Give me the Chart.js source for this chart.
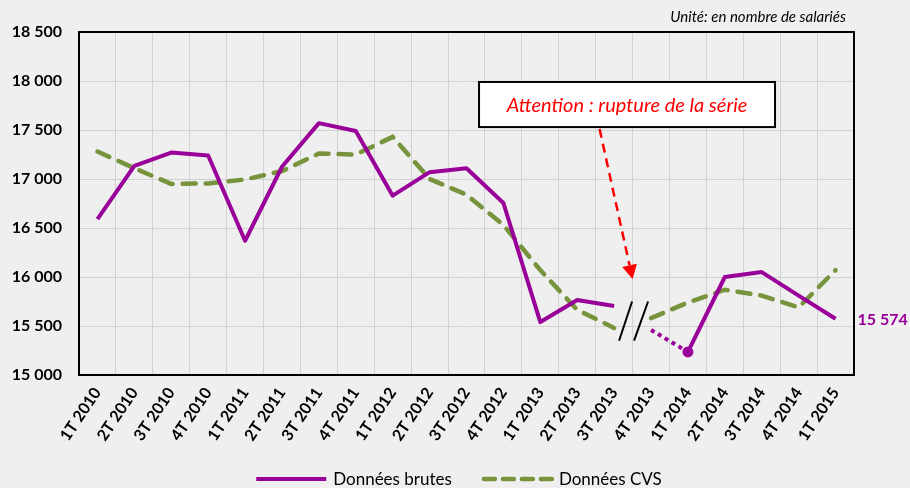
<!DOCTYPE html>
<html><head><meta charset="utf-8">
<script src="https://cdn.jsdelivr.net/npm/chart.js@4.4.1/dist/chart.umd.min.js"></script>
<style>html,body{margin:0;padding:0;background:#efefef;}#wrap{width:910px;height:488px;}</style>
</head><body><div id="wrap"><canvas id="c" width="910" height="488"></canvas></div>
<script>
const categories = ['1T 2010','2T 2010','3T 2010','4T 2010','1T 2011','2T 2011','3T 2011','4T 2011','1T 2012','2T 2012','3T 2012','4T 2012','1T 2013','2T 2013','3T 2013','4T 2013','1T 2014','2T 2014','3T 2014','4T 2014','1T 2015'];
const brutes = [16590,17135,17270,17240,16370,17125,17570,17490,16830,17070,17110,16755,15540,15765,15705,15460,15235,16000,16050,15810,15574];
const cvs = [17280,17110,16950,16955,16995,17080,17260,17250,17430,17000,16840,16530,16070,15665,15480,15580,15740,15870,15810,15690,16070];
const yMin = 15000, yMax = 18500, yStep = 500;
const seriesLabels = ['Données brutes', 'Données CVS'];
const breakAfterIndex = 14;      // no line between 3T 2013 and 4T 2013
const dottedFromIndex = 15;      // dotted segment 4T 2013 -> 1T 2014
const markerIndex = 16;          // marker on 1T 2014
const noteText = 'Attention : rupture de la série';
const unitText = 'Unité: en nombre de salariés';
const lastValueLabel = '15 574';

const PURPLE = '#990099', GREEN = '#77933C', GRID = '#d2d2d2', BG = '#efefef';
const FONT = 'Lato, "Open Sans", sans-serif';
const fmt = v => String(v).replace(/\B(?=(\d{3})+(?!\d))/g, ' ');

const decor = {
  id: 'decor',
  beforeDraw(chart) {
    const c = chart.ctx;
    c.save(); c.fillStyle = BG; c.fillRect(0, 0, chart.width, chart.height); c.restore();
  },
  beforeDatasetsDraw(chart) {
    const c = chart.ctx, a = chart.chartArea;
    c.save(); c.strokeStyle = '#000'; c.lineWidth = 2;
    c.strokeRect(a.left, a.top, a.right - a.left, a.bottom - a.top);
    c.restore();
  },
  afterDraw(chart) {
    const c = chart.ctx, a = chart.chartArea, xs = chart.scales.x, ys = chart.scales.y;
    const bx = i => xs.getPixelForValue(i);
    const boundary = (bx(breakAfterIndex) + bx(breakAfterIndex + 1)) / 2;
    c.save();
    // break slashes
    c.strokeStyle = '#000'; c.lineWidth = 2;
    const yb = ys.getPixelForValue(15350), yt = ys.getPixelForValue(15750);
    [[-13.5, -0.5], [1.5, 15.5]].forEach(([x0, x1]) => {
      c.beginPath(); c.moveTo(boundary + x0, yb); c.lineTo(boundary + x1, yt); c.stroke();
    });
    // note box
    const step = bx(1) - bx(0);
    const L = bx(0) + step * 10.34, R = bx(0) + step * 18.36;
    const T = ys.getPixelForValue(17990), B = ys.getPixelForValue(17530);
    c.fillStyle = '#fff'; c.fillRect(L, T, R - L, B - T);
    c.strokeStyle = '#000'; c.lineWidth = 2; c.strokeRect(L, T, R - L, B - T);
    c.fillStyle = '#ff0000'; c.font = 'italic 20px ' + FONT;
    c.textAlign = 'center'; c.textBaseline = 'middle';
    c.fillText(noteText, (L + R) / 2, (T + B) / 2 + 1);
    // arrow
    const tipX = boundary, tipY = ys.getPixelForValue(15980);
    const sx = tipX - 33, sy = B + 2;
    const ang = Math.atan2(tipY - sy, tipX - sx);
    const hl = 14, hw = 7.5;
    const baseX = tipX - Math.cos(ang) * hl, baseY = tipY - Math.sin(ang) * hl;
    c.strokeStyle = '#ff0000'; c.lineWidth = 2.5; c.setLineDash([9, 6]);
    c.beginPath(); c.moveTo(sx, sy); c.lineTo(baseX, baseY); c.stroke();
    c.setLineDash([]);
    c.fillStyle = '#ff0000';
    c.beginPath(); c.moveTo(tipX, tipY);
    c.lineTo(baseX + Math.sin(ang) * hw, baseY - Math.cos(ang) * hw);
    c.lineTo(baseX - Math.sin(ang) * hw, baseY + Math.cos(ang) * hw);
    c.closePath(); c.fill();
    // last value label
    const li = brutes.length - 1;
    c.fillStyle = PURPLE; c.font = 'bold 16px ' + FONT; c.textAlign = 'left';
    c.fillText(lastValueLabel, bx(li) + 22, ys.getPixelForValue(brutes[li]) + 1);
    // unit
    c.fillStyle = '#000'; c.font = 'italic 15px ' + FONT; c.textAlign = 'right';
    c.fillText(unitText, a.right - 8, 17);
    // legend
    c.font = '17px ' + FONT; c.textAlign = 'left';
    const sw = 70, gapT = 7, gapI = 30;
    const w1 = c.measureText(seriesLabels[0]).width, w2 = c.measureText(seriesLabels[1]).width;
    const total = sw + gapT + w1 + gapI + sw + gapT + w2;
    let x = chart.width / 2 + 4 - total / 2; const ly = 479;
    c.strokeStyle = PURPLE; c.lineWidth = 4;
    c.beginPath(); c.moveTo(x, ly); c.lineTo(x + sw, ly); c.stroke();
    c.fillStyle = '#000'; c.fillText(seriesLabels[0], x + sw + gapT, ly + 1);
    x += sw + gapT + w1 + gapI;
    c.strokeStyle = GREEN; c.lineWidth = 4.5; c.setLineDash([11, 8]); c.lineCap = 'round';
    c.beginPath(); c.moveTo(x + 2, ly); c.lineTo(x + sw, ly); c.stroke();
    c.setLineDash([]); c.lineCap = 'butt';
    c.fillText(seriesLabels[1], x + sw + gapT, ly + 1);
    c.restore();
  }
};

Chart.defaults.font.family = FONT;
new Chart(document.getElementById('c'), {
  type: 'line',
  data: {
    labels: categories,
    datasets: [
      {
        label: seriesLabels[0], data: brutes, borderColor: PURPLE, backgroundColor: PURPLE,
        borderWidth: 4, tension: 0, borderJoinStyle: 'round',
        pointRadius: brutes.map((v, i) => i === markerIndex ? 5.5 : 0), pointBorderWidth: 0,
        pointBackgroundColor: PURPLE, pointHoverRadius: 0,
        segment: {
          borderColor: s => s.p0DataIndex === breakAfterIndex ? 'rgba(0,0,0,0)' : undefined,
          borderDash: s => s.p0DataIndex === dottedFromIndex ? [4, 4] : undefined
        }
      },
      {
        label: seriesLabels[1], data: cvs, borderColor: GREEN, backgroundColor: GREEN,
        borderWidth: 4.5, borderDash: [13, 10], borderCapStyle: 'round', tension: 0,
        pointRadius: 0, pointHoverRadius: 0,
        segment: {
          borderColor: s => s.p0DataIndex === breakAfterIndex ? 'rgba(0,0,0,0)' : undefined
        }
      }
    ]
  },
  options: {
    responsive: false, animation: false,
    layout: { padding: { top: 32, right: 56, left: 0, bottom: 0 } },
    plugins: { legend: { display: false }, tooltip: { enabled: false } },
    scales: {
      x: {
        offset: true,
        grid: { offset: true, color: GRID, lineWidth: 1, drawTicks: false },
        border: { display: false },
        ticks: { color: '#000', font: { weight: 'bold', size: 16 }, minRotation: 56, maxRotation: 56, padding: 9, autoSkip: false },
        afterFit: s => { s.height = 113; }
      },
      y: {
        min: yMin, max: yMax,
        grid: { color: GRID, lineWidth: 1, drawTicks: false },
        border: { display: false },
        ticks: { stepSize: yStep, color: '#000', font: { weight: 'bold', size: 16 }, padding: 17, callback: v => fmt(v) },
        afterFit: s => { s.width = 79; }
      }
    }
  },
  plugins: [decor]
});
</script></body></html>
